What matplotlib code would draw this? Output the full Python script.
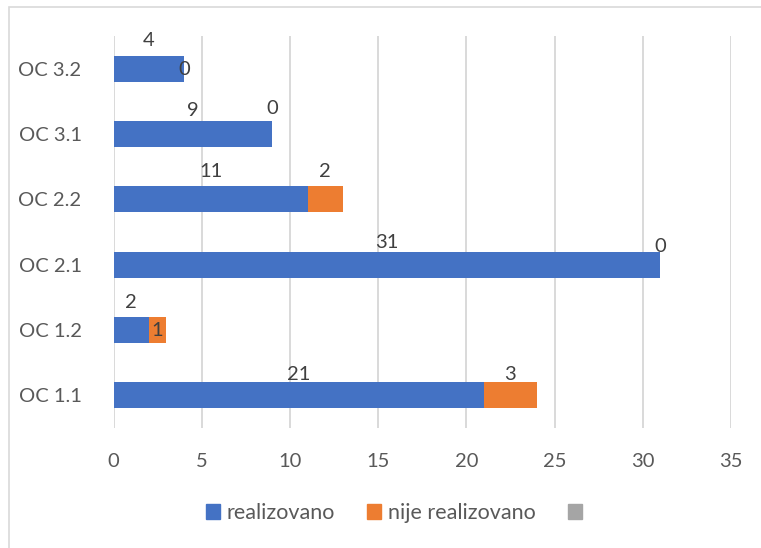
import matplotlib
matplotlib.use("Agg")
import matplotlib.pyplot as plt
from matplotlib.patches import Patch, Rectangle

categories = ["OC 1.1", "OC 1.2", "OC 2.1", "OC 2.2", "OC 3.1", "OC 3.2"]
realizovano = [21, 2, 31, 11, 9, 4]
nije_realizovano = [3, 1, 0, 2, 0, 0]
series_names = ["realizovano", "nije realizovano", ""]
x_ticks = [0, 5, 10, 15, 20, 25, 30, 35]

# label vertical offsets (pixels above bar centre) - style only
blue_dy = [21, 28, 22, 28, 24, 28]
orange_dy = [21, 0, 18, 28, 26, -1]

BLUE = "#4472C4"
ORANGE = "#ED7D31"
GRAY = "#A5A5A5"
FONT = "Lato"
FS = 14

plt.rcParams['font.family'] = [FONT, 'DejaVu Sans']

W, H = 761, 548
fig = plt.figure(figsize=(W / 100, H / 100), dpi=100)

# chart border (cut off at right and bottom)
fig.patches.append(Rectangle((8.5 / W, -0.1), 1.2, 1 - 7 / H + 0.1,
                             transform=fig.transFigure, fill=False,
                             edgecolor="#D9D9D9", linewidth=1.2))

ax = fig.add_axes([113.5 / W, 1 - 428 / H, (731 - 113.5) / W, (428 - 36) / H])
y = list(range(len(categories)))
ax.barh(y, realizovano, height=0.4, color=BLUE, zorder=3)
ax.barh(y, nije_realizovano, left=realizovano, height=0.4, color=ORANGE, zorder=3)

ax.set_xlim(0, 35)
ax.set_ylim(-0.5, len(categories) - 0.5)
ax.set_xticks(x_ticks)
ax.set_yticks(y)
ax.set_yticklabels(categories)
ax.tick_params(axis='both', length=0, labelsize=FS + 0.5, labelcolor="#595959")
ax.tick_params(axis='y', pad=23)
ax.tick_params(axis='x', pad=18)
for s in ax.spines.values():
    s.set_visible(False)
ax.grid(axis='x', color="#D9D9D9", linewidth=1.4, zorder=0)
ax.set_axisbelow(True)

px = 72 / 100
for i in y:
    b = realizovano[i]
    o = nije_realizovano[i]
    ax.annotate(str(b), (b / 2, i), xytext=(0, blue_dy[i] * px),
                textcoords="offset points", ha="center", va="center",
                fontsize=FS + 0.5, color="#404040", zorder=5)
    ax.annotate(str(o), (b + o / 2, i), xytext=(0, orange_dy[i] * px),
                textcoords="offset points", ha="center", va="center",
                fontsize=FS + 0.5, color="#404040", zorder=5)

handles = [Patch(color=BLUE), Patch(color=ORANGE), Patch(color=GRAY)]
fig.legend(handles, series_names, loc="center", bbox_to_anchor=(397 / W, 1 - 513 / H),
           ncol=3, frameon=False, fontsize=15.5, labelcolor="#595959",
           handlelength=0.65, handleheight=0.65, handletextpad=0.3,
           columnspacing=1.5)

fig.savefig("out.png", dpi=100)
